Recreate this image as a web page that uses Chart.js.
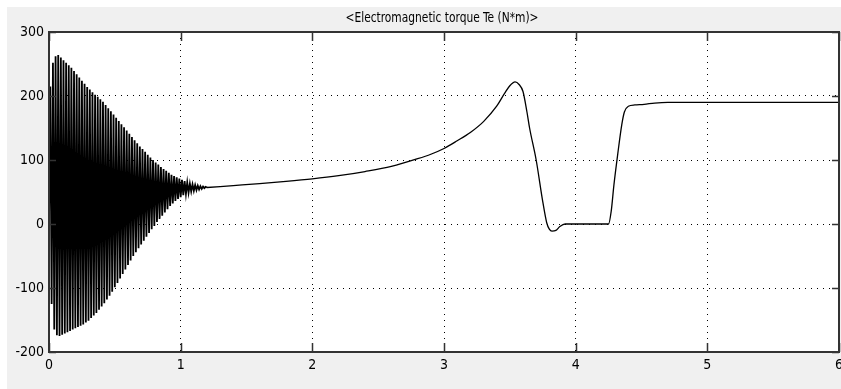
<!DOCTYPE html>
<html>
<head>
<meta charset="utf-8">
<title>Electromagnetic torque Te</title>
<script src="https://cdn.jsdelivr.net/npm/chart.js@4/dist/chart.umd.min.js"></script>
<style>
  html, body { margin: 0; padding: 0; background: #fff; }
  canvas { display: block; }
</style>
</head>
<body>
<canvas id="torque" width="841" height="389"></canvas>
<script>
// start-up burst: one extreme every 10 ms (0 .. 1.2 s)
const burstTime = [
  0.00, 0.01, 0.02, 0.03, 0.04, 0.05, 0.06, 0.07, 0.08, 0.09,
  0.10, 0.11, 0.12, 0.13, 0.14, 0.15, 0.16, 0.17, 0.18, 0.19,
  0.20, 0.21, 0.22, 0.23, 0.24, 0.25, 0.26, 0.27, 0.28, 0.29,
  0.30, 0.31, 0.32, 0.33, 0.34, 0.35, 0.36, 0.37, 0.38, 0.39,
  0.40, 0.41, 0.42, 0.43, 0.44, 0.45, 0.46, 0.47, 0.48, 0.49,
  0.50, 0.51, 0.52, 0.53, 0.54, 0.55, 0.56, 0.57, 0.58, 0.59,
  0.60, 0.61, 0.62, 0.63, 0.64, 0.65, 0.66, 0.67, 0.68, 0.69,
  0.70, 0.71, 0.72, 0.73, 0.74, 0.75, 0.76, 0.77, 0.78, 0.79,
  0.80, 0.81, 0.82, 0.83, 0.84, 0.85, 0.86, 0.87, 0.88, 0.89,
  0.90, 0.91, 0.92, 0.93, 0.94, 0.95, 0.96, 0.97, 0.98, 0.99,
  1.00, 1.01, 1.02, 1.03, 1.04, 1.05, 1.06, 1.07, 1.08, 1.09,
  1.10, 1.11, 1.12, 1.13, 1.14, 1.15, 1.16, 1.17, 1.18, 1.19,
  1.20
];
const burstTorque = [
  0, 215, -125, 252, -165, 262, -174, 264, -175, 260,
  -173, 256, -171, 252, -169, 248, -167, 244, -165, 239,
  -163, 234, -161, 229, -159, 224, -157, 219, -154, 214,
  -151, 210, -147, 206, -143, 202, -139, 199, -134, 195,
  -129, 191, -124, 186, -118, 181, -112, 176, -106, 171,
  -99, 166, -92, 161, -85, 156, -78, 151, -71, 146,
  -64, 141, -57, 136, -50, 131, -44, 126, -38, 121,
  -32, 117, -26, 113, -20, 108, -14, 104, -8, 100,
  -3, 96, 3, 93, 8, 89, 13, 86, 18, 83,
  23, 80, 28, 77, 32, 75, 36, 73, 39, 71,
  42, 69, 45, 67, 47, 65, 49, 63, 51, 62,
  52, 61, 53, 60, 54, 59, 55, 58.5, 56, 58,
  57
];

// smooth part after the transient
const curveTime = [
  1.20, 1.40, 1.60, 1.80, 2.00, 2.20, 2.40, 2.60, 2.80, 2.90,
  3.00, 3.10, 3.20, 3.30, 3.40, 3.46, 3.50, 3.54, 3.57, 3.60,
  3.63, 3.65, 3.70, 3.75, 3.78, 3.80, 3.82, 3.85, 3.88, 3.92,
  4.25, 4.27, 4.29, 4.32, 4.35, 4.37, 4.40, 4.45, 4.52, 4.60,
  4.70, 6.00
];
const curveTorque = [
  57, 60, 63, 66.5, 70.5, 75.5, 82, 90, 102, 109,
  118, 130, 143, 160, 184, 204, 216, 222, 218, 207,
  175, 150, 100, 35, 2, -8, -11, -10, -4, 0,
  0, 20, 60, 110, 155, 175, 184, 186, 187, 189,
  190, 190
];

const xTicks = [0, 1, 2, 3, 4, 5, 6];
const yTicks = [-200, -100, 0, 100, 200, 300];
const chartTitle = '<Electromagnetic torque Te (N*m)>';

const fontFamily = "'DejaVu Sans Condensed', 'Liberation Sans', sans-serif";

function toPoints(xs, ys) {
  return xs.map((x, i) => ({ x: x, y: ys[i] }));
}

// hide the grid lines that sit on the frame
function innerGrid(min, max) {
  return function (ctx) {
    if (!ctx.tick) return 'transparent';
    return (ctx.tick.value === min || ctx.tick.value === max) ? 'transparent' : '#000';
  };
}

// grey panel, white axes box, frame with inward ticks and the title
const scopeFrame = {
  id: 'scopeFrame',
  beforeDraw(chart) {
    const ctx = chart.ctx;
    const a = chart.chartArea;
    ctx.save();
    ctx.fillStyle = '#fff';
    ctx.fillRect(0, 0, chart.width, chart.height);
    ctx.fillStyle = '#f0f0f0';
    ctx.fillRect(7, 7, chart.width - 7, chart.height - 7);
    ctx.fillStyle = '#fff';
    ctx.fillRect(a.left, a.top, a.right - a.left, a.bottom - a.top);
    ctx.restore();
  },
  afterDatasetsDraw(chart) {
    const ctx = chart.ctx;
    const a = chart.chartArea;
    const xs = chart.scales.x;
    const ys = chart.scales.y;
    ctx.save();
    ctx.strokeStyle = '#333';
    ctx.lineWidth = 1.5;
    ctx.beginPath();
    xTicks.forEach(function (v) {
      const px = Math.round(xs.getPixelForValue(v)) + 0.5;
      ctx.moveTo(px, a.top); ctx.lineTo(px, a.top + 9);
      ctx.moveTo(px, a.bottom); ctx.lineTo(px, a.bottom - 9);
    });
    yTicks.forEach(function (v) {
      const py = Math.round(ys.getPixelForValue(v)) + 0.5;
      ctx.moveTo(a.left, py); ctx.lineTo(a.left + 7, py);
      ctx.moveTo(a.right, py); ctx.lineTo(a.right - 7, py);
    });
    ctx.stroke();
    ctx.lineWidth = 2;
    ctx.strokeRect(a.left, a.top, a.right - a.left, a.bottom - a.top);

    // narrow title squeezed into the same width as the scope caption
    ctx.fillStyle = '#000';
    ctx.font = '14px ' + fontFamily;
    ctx.textAlign = 'center';
    ctx.textBaseline = 'middle';
    const w = ctx.measureText(chartTitle).width;
    const sx = Math.min(1, 193 / w);
    ctx.translate((a.left + a.right) / 2 - 2, 18);
    ctx.scale(sx, 1);
    ctx.fillText(chartTitle, 0, 0);
    ctx.restore();
  }
};

Chart.defaults.font.family = fontFamily;
Chart.defaults.color = '#000';

new Chart(document.getElementById('torque'), {
  type: 'line',
  data: {
    datasets: [
      {
        data: toPoints(burstTime, burstTorque),
        borderColor: '#000',
        borderWidth: 1.8,
        pointRadius: 0,
        tension: 0,
        fill: false
      },
      {
        data: toPoints(curveTime, curveTorque),
        borderColor: '#000',
        borderWidth: 1.3,
        pointRadius: 0,
        cubicInterpolationMode: 'monotone',
        fill: false
      }
    ]
  },
  options: {
    responsive: false,
    animation: false,
    devicePixelRatio: 1,
    layout: { padding: { top: 32, right: 2, left: 0, bottom: 0 } },
    plugins: {
      legend: { display: false },
      title: { display: false },
      tooltip: { enabled: false }
    },
    scales: {
      x: {
        type: 'linear',
        min: 0,
        max: 6,
        afterBuildTicks(scale) { scale.ticks = xTicks.map(v => ({ value: v })); },
        afterFit(scale) {
          scale.height = 37;
          scale.paddingLeft = 0;
          scale.paddingRight = 0;
        },
        ticks: { padding: 5, maxRotation: 0, autoSkip: false, font: { size: 14 } },
        grid: { color: innerGrid(0, 6), lineWidth: 1, drawTicks: false },
        border: { display: false, dash: [1, 5] }
      },
      y: {
        type: 'linear',
        min: -200,
        max: 300,
        afterBuildTicks(scale) { scale.ticks = yTicks.map(v => ({ value: v })); },
        afterFit(scale) {
          scale.width = 49;
          scale.paddingTop = 0;
          scale.paddingBottom = 0;
        },
        ticks: { padding: 5, font: { size: 14 } },
        grid: { color: innerGrid(-200, 300), lineWidth: 1, drawTicks: false },
        border: { display: false, dash: [1, 5] }
      }
    }
  },
  plugins: [scopeFrame]
});
</script>
</body>
</html>
